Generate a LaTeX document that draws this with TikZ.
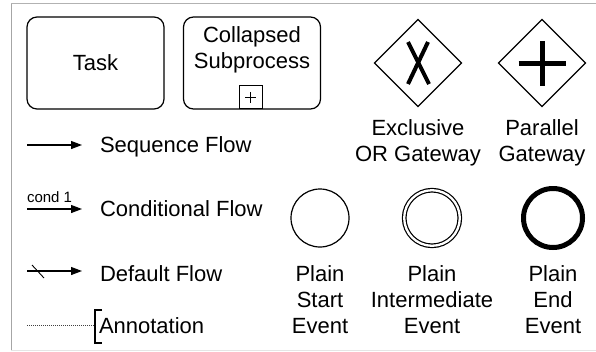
\documentclass[tikz,border=0pt]{standalone}
\usepackage{fontspec}
\setmainfont{Liberation Sans}
\usetikzlibrary{shapes.geometric,arrows.meta}
\begin{document}
\begin{tikzpicture}[x=1pt,y=-1pt,
  every node/.style={inner sep=0pt, outer sep=0pt},
  lbl/.style={font=\fontsize{22}{26}\selectfont, align=center},
  small/.style={font=\fontsize{15}{17}\selectfont},
  activity/.style={draw, line width=1.2pt, rounded corners=10pt,
    minimum width=137pt, minimum height=92pt},
  gateway/.style={draw, diamond, line width=1.2pt, minimum size=87pt},
  flow/.style={line width=1.2pt, -{Triangle[length=11pt,width=8pt]}},
  evt/.style={circle, draw}]

\useasboundingbox (0,0) rectangle (596,351);

% frame
\draw[color=black!35, line width=1pt] (11,351) -- (11,3.5);
\draw[color=black!30, line width=1pt] (11,3.5) -- (596,3.5);
\draw[color=black!10, line width=1pt] (11,350) -- (596,350);

% activities
\node[activity, lbl] (task) at (95.5,63) {Task};
\node[activity] (sub) at (252,63) {};
\node[lbl] (subtext) at (252,50) {Collapsed\\Subprocess};
\node[draw, line width=1pt, minimum size=23pt] (submark) at (250.5,97) {};
\draw[line width=1pt] ([xshift=-5.5pt]submark.center) -- ([xshift=5.5pt]submark.center);
\draw[line width=1pt] ([yshift=-5.5pt]submark.center) -- ([yshift=5.5pt]submark.center);

% gateways
\node[gateway] (xor) at (418,63) {};
\draw[line width=4pt] ([shift={(-10,-21)}]xor.center) -- ([shift={(11,21)}]xor.center);
\draw[line width=4pt] ([shift={(10,-21)}]xor.center) -- ([shift={(-10,21)}]xor.center);
\node[lbl] (xorlbl) at (418,143) {Exclusive\\OR Gateway};

\node[gateway] (and) at (542,63) {};
\draw[line width=5pt] ([xshift=-23.5pt]and.center) -- ([xshift=23.5pt]and.center);
\draw[line width=5pt] ([yshift=-22.5pt]and.center) -- ([yshift=22.5pt]and.center);
\node[lbl] (andlbl) at (542,143) {Parallel\\Gateway};

% sequence flow
\coordinate (s1) at (27,145);
\coordinate (s2) at (82,145);
\draw[flow] (s1) -- (s2);
\node[lbl, anchor=base west] (seqlbl) at (100,152) {Sequence Flow};

% conditional flow
\coordinate (c1) at (27,209);
\coordinate (c2) at (82,209);
\draw[flow] (c1) -- (c2);
\node[small, anchor=base west] (condtxt) at (27,202) {cond 1};
\node[lbl, anchor=base west] (condlbl) at (100,216) {Conditional Flow};

% default flow
\coordinate (d1) at (27,271);
\coordinate (d2) at (82,271);
\draw[flow] (d1) -- (d2);
\draw[line width=0.9pt] ([shift={(5,-6)}]d1) -- ([shift={(17,7)}]d1);
\node[lbl, anchor=base west] (deflbl) at (100,281) {Default Flow};

% annotation
\coordinate (a1) at (27,325);
\coordinate (a2) at (95,325);
\draw[color=black!75, line width=0.9pt, dash pattern=on 1pt off 1pt] (a1) -- (a2);
\draw[line width=1.2pt] ([shift={(7,-15)}]a2) -- ([shift={(0,-15)}]a2)
  -- ([shift={(0,18)}]a2) -- ([shift={(7,18)}]a2);
\node[lbl, anchor=base west] (annlbl) at (99,333) {Annotation};

% events
\node[evt, line width=1.2pt, minimum size=58pt] (start) at (320,218) {};
\node[evt, line width=1.2pt, double, double distance=2.3pt, minimum size=55.6pt] (inter) at (432,218) {};
\node[evt, line width=5pt, minimum size=59pt] (end) at (553,218) {};
\node[lbl] (startlbl) at (320,299.5) {Plain\\Start\\Event};
\node[lbl] (interlbl) at (432,299.5) {Plain\\Intermediate\\Event};
\node[lbl] (endlbl) at (553,299.5) {Plain\\End\\Event};
\end{tikzpicture}
\end{document}
